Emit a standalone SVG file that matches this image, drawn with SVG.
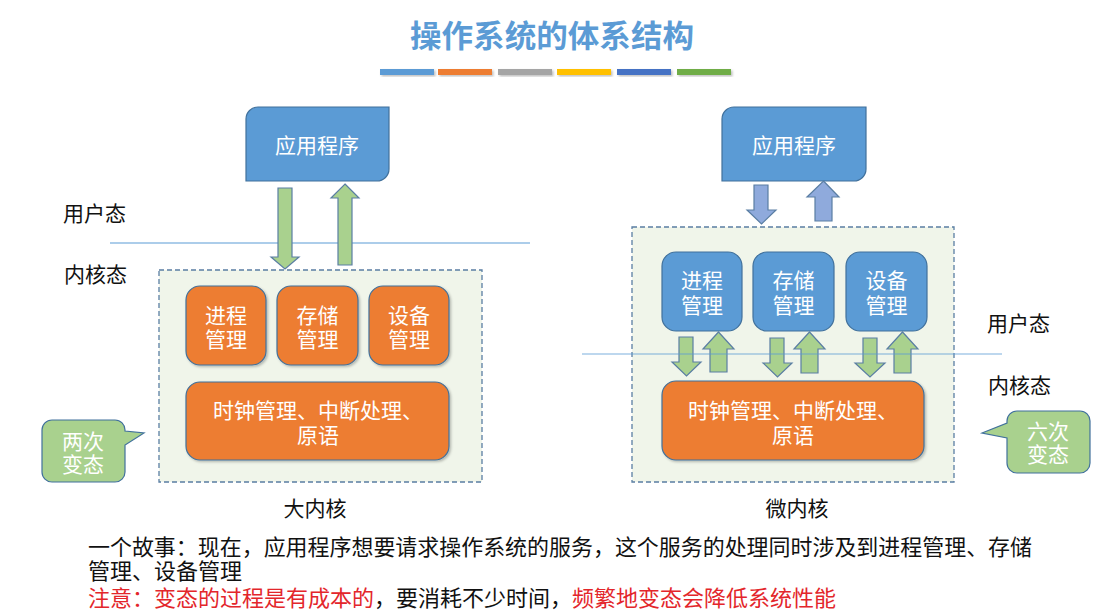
<svg xmlns="http://www.w3.org/2000/svg" width="1107" height="615" viewBox="0 0 1107 615">
<defs>
<filter id="sh" x="-10%" y="-10%" width="130%" height="140%"><feDropShadow dx="1.5" dy="1.5" stdDeviation="1" flood-color="#000" flood-opacity="0.25"/></filter>
</defs>
<style>
text{font-family:"Noto Sans CJK SC","Liberation Sans",sans-serif}
.lbl{font-size:21px;fill:#111}
.wt{font-size:21px;fill:#fff;text-anchor:middle}
.app{fill:#5B9BD5;stroke:#41719C;stroke-width:1.2}
.org{fill:#ED7D31;stroke:#41719C;stroke-width:1.2}
.blu{fill:#5B9BD5;stroke:#41719C;stroke-width:1.2}
.cont{fill:#F0F5EA;stroke:#5A7EA3;stroke-width:1.3;stroke-dasharray:5 3}
.garr{fill:#A9D18E;stroke:#5A7EA3;stroke-width:1.2}
.barr{fill:#8FAADC;stroke:#5A7EA3;stroke-width:1.2}
.call{fill:#A9D18E;stroke:#41719C;stroke-width:1.2}
.hl{stroke:#5B9BD5;stroke-width:1.2}
.body{font-size:22px;fill:#111}
.red{fill:#E3262B}
</style>
<rect width="1107" height="615" fill="#fff"/>
<g id="title">
<text x="552" y="47" text-anchor="middle" font-size="31" font-weight="bold" fill="#5B9BD5" textLength="284" lengthAdjust="spacingAndGlyphs">操作系统的体系结构</text>
<g filter="url(#sh)">
<rect x="380" y="69" width="54" height="6" fill="#5B9BD5"/>
<rect x="438" y="69" width="54" height="6" fill="#ED7D31"/>
<rect x="498" y="69" width="54" height="6" fill="#A5A5A5"/>
<rect x="557" y="69" width="54" height="6" fill="#FFC000"/>
<rect x="617" y="69" width="54" height="6" fill="#4472C4"/>
<rect x="677" y="69" width="54" height="6" fill="#70AD47"/>
</g>
</g>
<g id="mode-labels">
<text class="lbl" x="63" y="221">用户态</text>
<text class="lbl" x="64" y="282">内核态</text>
<text class="lbl" x="987" y="331">用户态</text>
<text class="lbl" x="988" y="393">内核态</text>
</g>
<g id="big-kernel-container"><rect class="cont" x="159" y="270" width="323" height="212"/></g>
<g id="micro-kernel-container"><rect class="cont" x="632" y="227" width="322" height="255"/></g>
<line class="hl" x1="110" y1="243" x2="530" y2="243"/>
<g id="app-left">
<path class="app" d="M258 107H389V169A12 12 0 0 1 377 181H246V119A12 12 0 0 1 258 107Z"/>
<text class="wt" x="317" y="153">应用程序</text>
</g>
<g id="app-right">
<path class="app" d="M734 107H866V169A12 12 0 0 1 854 181H722V119A12 12 0 0 1 734 107Z"/>
<text class="wt" x="794" y="153">应用程序</text>
</g>
<g id="left-process"><rect class="org" x="186" y="286" width="80" height="79" rx="14" filter="url(#sh)"/><text class="wt" x="226" y="323">进程</text><text class="wt" x="226" y="347">管理</text></g>
<g id="left-storage"><rect class="org" x="277" y="286" width="81" height="79" rx="14" filter="url(#sh)"/><text class="wt" x="317.5" y="323">存储</text><text class="wt" x="317.5" y="347">管理</text></g>
<g id="left-device"><rect class="org" x="369" y="286" width="80" height="79" rx="14" filter="url(#sh)"/><text class="wt" x="409" y="323">设备</text><text class="wt" x="409" y="347">管理</text></g>
<g id="left-core"><rect class="org" x="186" y="382" width="263" height="78" rx="14" filter="url(#sh)"/><text class="wt" x="318" y="418">时钟管理、中断处理、</text><text class="wt" x="318" y="443">原语</text></g>
<g id="right-process"><rect class="blu" x="662" y="252" width="80" height="79" rx="14"/><text class="wt" x="702" y="288">进程</text><text class="wt" x="702" y="313">管理</text></g>
<g id="right-storage"><rect class="blu" x="753" y="252" width="81" height="79" rx="14"/><text class="wt" x="793.5" y="288">存储</text><text class="wt" x="793.5" y="313">管理</text></g>
<g id="right-device"><rect class="blu" x="846" y="252" width="81" height="79" rx="14"/><text class="wt" x="886.5" y="288">设备</text><text class="wt" x="886.5" y="313">管理</text></g>
<g id="right-core"><rect class="org" x="662" y="381" width="262" height="79" rx="14" filter="url(#sh)"/><text class="wt" x="793" y="418">时钟管理、中断处理、</text><text class="wt" x="793" y="443">原语</text></g>
<g id="connectors">
<polygon class="garr" points="278,188 292,188 292,257 299,257 285,269 271,257 278,257"/>
<polygon class="garr" points="345,184 359,198 352,198 352,265 338,265 338,198 331,198"/>
<polygon class="barr" points="754,185 768,185 768,210 776,210 761.5,224 747,210 754,210"/>
<polygon class="barr" points="823.5,181 839,197 832,197 832,221 815,221 815,197 807,197"/>
<polygon class="garr" points="679,337 693,337 693,362 701,362 686.5,376 672,362 679,362"/>
<polygon class="garr" points="718.5,332 734,349 727,349 727,372 710,372 710,349 703,349"/>
<polygon class="garr" points="770,338 784,338 784,363 792,363 777.5,377 763,363 770,363"/>
<polygon class="garr" points="809.5,332 825,349 818,349 818,373 801,373 801,349 794,349"/>
<polygon class="garr" points="863,338 877,338 877,363 885,363 870,377 855,363 863,363"/>
<polygon class="garr" points="902.5,332 918,349 911,349 911,373 894,373 894,349 887,349"/>
<line class="hl" x1="582" y1="354" x2="1002" y2="354" stroke-opacity="0.8"/>
</g>
<g id="callout-left">
<path class="call" d="M52 420H115A10 10 0 0 1 125 430V431L144 433L125 445V472A10 10 0 0 1 115 482H52A10 10 0 0 1 42 472V430A10 10 0 0 1 52 420Z"/>
<text class="wt" x="83" y="449">两次</text><text class="wt" x="83" y="472">变态</text>
</g>
<g id="callout-right">
<path class="call" d="M1017 411H1080A10 10 0 0 1 1090 421V463A10 10 0 0 1 1080 473H1017A10 10 0 0 1 1007 463V438L982 433L1007 423V421A10 10 0 0 1 1017 411Z"/>
<text class="wt" x="1048" y="439">六次</text><text class="wt" x="1048" y="462">变态</text>
</g>
<g id="captions">
<text class="lbl" x="315" y="516" text-anchor="middle">大内核</text>
<text class="lbl" x="797" y="516" text-anchor="middle">微内核</text>
</g>
<g id="notes">
<text class="body" x="88" y="555" textLength="944" lengthAdjust="spacingAndGlyphs">一个故事：现在，应用程序想要请求操作系统的服务，这个服务的处理同时涉及到进程管理、存储</text>
<text class="body" x="88" y="579">管理、设备管理</text>
<text class="body" x="88" y="606"><tspan class="red">注意：变态的过程是有成本的</tspan>，要消耗不少时间，<tspan class="red">频繁地变态会降低系统性能</tspan></text>
</g>
</svg>
